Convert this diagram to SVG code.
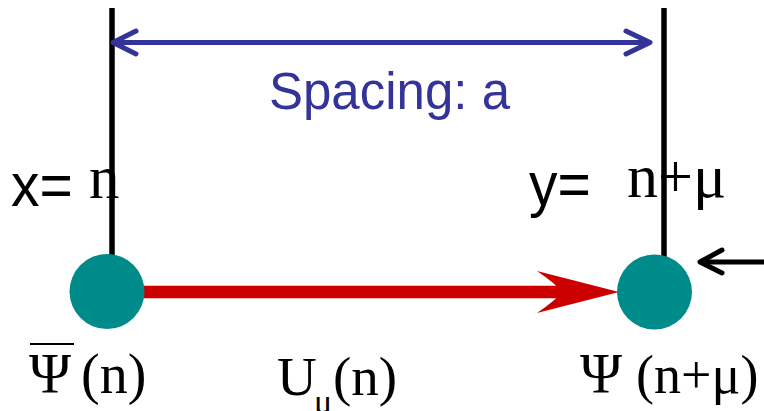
<svg xmlns="http://www.w3.org/2000/svg" width="764" height="411" viewBox="0 0 764 411">
<style>
.vl{stroke:#000;stroke-width:5.5;fill:none}
.blue{stroke:#333399;stroke-width:5;fill:none;stroke-linecap:round;stroke-linejoin:round}
.blk{stroke:#000;stroke-width:5;fill:none;stroke-linecap:round;stroke-linejoin:round}
.node{fill:#008B8B}
.sans{font-family:"Liberation Sans",Arial,sans-serif;fill:#000}
.serif{font-family:"Liberation Serif","Times New Roman",serif;fill:#000}
</style>
<g id="connectors">
<line class="vl" x1="112" y1="8" x2="112" y2="262"/>
<line class="vl" x1="664" y1="8" x2="664" y2="260"/>
<line class="blue" x1="114" y1="42.5" x2="648" y2="42.5"/>
<polyline class="blue" points="136,31 113,42.5 136,54"/>
<polyline class="blue" points="626,31 650,42.5 626,54"/>
<line x1="144" y1="292" x2="562" y2="292" stroke="#CC0000" stroke-width="12.5"/>
<path d="M537,271 L619,292 L537,313 Q556,300 562,292 Q556,284 537,271 Z" fill="#CC0000"/>
<line class="blk" x1="764" y1="262" x2="702" y2="262"/>
<polyline class="blk" points="722,250 700,262 722,273"/>
</g>
<g id="node-left">
<circle class="node" cx="107" cy="291.5" r="37.5"/>
</g>
<g id="node-right">
<circle class="node" cx="654.5" cy="292" r="37.5"/>
</g>
<g id="label-spacing">
<text x="389.5" y="109" font-size="51" text-anchor="middle" font-family="Liberation Sans,Arial,sans-serif" fill="#333399">Spacing: a</text>
</g>
<g id="label-x">
<text class="sans" x="11" y="192.5" font-size="57" transform="scale(1,1.07)">x=</text>
<text class="serif" x="89" y="197.5" font-size="61">n</text>
</g>
<g id="label-y">
<text class="sans" x="529" y="191.6" font-size="57" transform="scale(1,1.07)">y=</text>
<text class="serif" x="627" y="197" font-size="62">n+μ</text>
</g>
<g id="label-psibar">
<line x1="30" y1="344" x2="74" y2="344" stroke="#000" stroke-width="2"/>
<text class="serif" x="29" y="393" font-size="57">Ψ</text>
<text class="serif" x="81" y="393" font-size="56">(n)</text>
</g>
<g id="label-u">
<text class="serif" x="277" y="395" font-size="55">U</text>
<text class="serif" x="314" y="413" font-size="34">μ</text>
<text class="serif" x="333" y="395" font-size="55">(n)</text>
</g>
<g id="label-psi">
<text class="serif" x="580" y="393" font-size="57">Ψ</text>
<text class="serif" x="636" y="393" font-size="54">(n+μ)</text>
</g>
</svg>
